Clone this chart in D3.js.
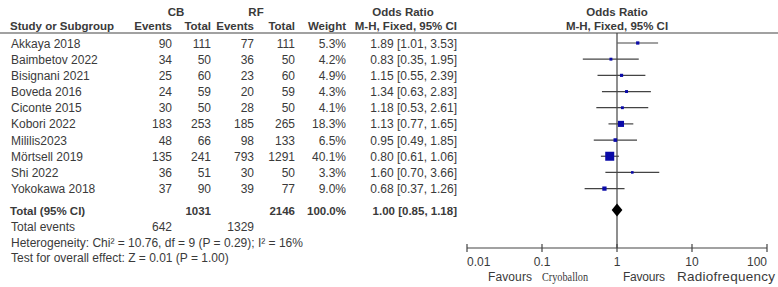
<!DOCTYPE html>
<html>
<head>
<meta charset="utf-8">
<script src="https://cdn.jsdelivr.net/npm/d3@7"></script>
<style>
  html, body { margin: 0; padding: 0; background: #fff; }
  svg { display: block; font-family: "Liberation Sans", Arial, sans-serif; }
</style>
</head>
<body>
<div id="forest"></div>
<script>
// ---- data ----
const studies   = ['Akkaya 2018', 'Baimbetov 2022', 'Bisignani 2021', 'Boveda 2016', 'Ciconte 2015',
                   'Kobori 2022', 'Mililis2023', 'Mörtsell 2019', 'Shi 2022', 'Yokokawa 2018'];
const cbEvents  = [90, 34, 25, 24, 30, 183, 48, 135, 36, 37];
const cbTotal   = [111, 50, 60, 59, 50, 253, 66, 241, 51, 90];
const rfEvents  = [77, 36, 23, 20, 28, 185, 98, 793, 30, 39];
const rfTotal   = [111, 50, 60, 59, 50, 265, 133, 1291, 50, 77];
const weights   = [5.3, 4.2, 4.9, 4.3, 4.1, 18.3, 6.5, 40.1, 3.3, 9.0];
const oddsRatio = [1.89, 0.83, 1.15, 1.34, 1.18, 1.13, 0.95, 0.80, 1.60, 0.68];
const ciLow     = [1.01, 0.35, 0.55, 0.63, 0.53, 0.77, 0.49, 0.61, 0.70, 0.37];
const ciHigh    = [3.53, 1.95, 2.39, 2.83, 2.61, 1.65, 1.85, 1.06, 3.66, 1.26];
const pooled    = { or: 1.00, lo: 0.85, hi: 1.18 };
const totals    = { cbTotal: 1031, rfTotal: 2146, cbEvents: 642, rfEvents: 1329, weight: '100.0%' };
const axisTicks = [0.01, 0.1, 1, 10, 100];
const tickLabels = ['0.01', '0.1', '1', '10', '100'];

const rows = studies.map((s, i) => ({
  study: s, cbE: cbEvents[i], cbT: cbTotal[i], rfE: rfEvents[i], rfT: rfTotal[i],
  w: weights[i], or: oddsRatio[i], lo: ciLow[i], hi: ciHigh[i]
}));

const width = 778, height = 287;
const textCol = '#3a3a3a', lineCol = '#444';

const svg = d3.select('#forest').append('svg')
  .attr('width', width).attr('height', height)
  .attr('viewBox', `0 0 ${width} ${height}`);

// scales
const y = d3.scalePoint().domain(studies).range([43, 188.6]);
const x = d3.scaleLog().domain([0.01, 100]).range([467, 767]);
const boxSize = d3.scaleSqrt().domain([0, 40.1]).range([0, 9]);

const yTotal = 210, yAxis = 248, yHeaderLine = 33;

// ----- header -----
const hdr = svg.append('g').attr('font-weight', 'bold').attr('font-size', 11.5).attr('fill', textCol);
const hdrText = (t, xx, yy, anchor) => hdr.append('text').attr('x', xx).attr('y', yy)
  .attr('text-anchor', anchor).text(t);
hdrText('CB', 176, 16, 'middle');
hdrText('RF', 256, 16, 'middle');
hdrText('Odds Ratio', 403, 16, 'middle');
hdrText('Odds Ratio', 617, 16, 'middle');
hdrText('Study or Subgroup', 10, 30, 'start');
hdrText('Events', 172, 30, 'end');
hdrText('Total', 211, 30, 'end');
hdrText('Events', 254, 30, 'end');
hdrText('Total', 295, 30, 'end');
hdrText('Weight', 346, 30, 'end');
hdrText('M-H, Fixed, 95% CI', 457, 30, 'end');
hdrText('M-H, Fixed, 95% CI', 617, 30, 'middle');

svg.append('line').attr('x1', 0).attr('x2', width)
  .attr('y1', yHeaderLine).attr('y2', yHeaderLine)
  .attr('stroke', lineCol).attr('stroke-width', 1.2);

// ----- table rows -----
const fmt2 = d3.format('.2f');
const cols = [
  { x: 11,  anchor: 'start', v: d => d.study },
  { x: 172, anchor: 'end',   v: d => d.cbE },
  { x: 211, anchor: 'end',   v: d => d.cbT },
  { x: 254, anchor: 'end',   v: d => d.rfE },
  { x: 295, anchor: 'end',   v: d => d.rfT },
  { x: 346, anchor: 'end',   v: d => d.w.toFixed(1) + '%' },
  { x: 457, anchor: 'end',   v: d => `${fmt2(d.or)} [${fmt2(d.lo)}, ${fmt2(d.hi)}]` }
];
const body = svg.append('g').attr('font-size', 12).attr('fill', textCol);
cols.forEach(c => {
  body.selectAll(null).data(rows).join('text')
    .attr('x', c.x).attr('y', d => y(d.study) + 4.5)
    .attr('text-anchor', c.anchor)
    .text(c.v);
});

// total row
const tot = svg.append('g').attr('font-weight', 'bold').attr('font-size', 11.5).attr('fill', textCol);
tot.append('text').attr('x', 10).attr('y', yTotal + 4.5).text('Total (95% CI)');
tot.append('text').attr('x', 211).attr('y', yTotal + 4.5).attr('text-anchor', 'end').text(totals.cbTotal);
tot.append('text').attr('x', 295).attr('y', yTotal + 4.5).attr('text-anchor', 'end').text(totals.rfTotal);
tot.append('text').attr('x', 346).attr('y', yTotal + 4.5).attr('text-anchor', 'end').text(totals.weight);
tot.append('text').attr('x', 457).attr('y', yTotal + 4.5).attr('text-anchor', 'end')
  .text(`${fmt2(pooled.or)} [${fmt2(pooled.lo)}, ${fmt2(pooled.hi)}]`);

const foot = svg.append('g').attr('font-size', 12).attr('fill', textCol);
foot.append('text').attr('x', 11).attr('y', 231).text('Total events');
foot.append('text').attr('x', 172).attr('y', 231).attr('text-anchor', 'end').text(totals.cbEvents);
foot.append('text').attr('x', 254).attr('y', 231).attr('text-anchor', 'end').text(totals.rfEvents);
foot.append('text').attr('x', 11).attr('y', 247)
  .text('Heterogeneity: Chi² = 10.76, df = 9 (P = 0.29); I² = 16%');
foot.append('text').attr('x', 11).attr('y', 262)
  .text('Test for overall effect: Z = 0.01 (P = 1.00)');

// ----- forest plot -----
const plot = svg.append('g');

// line of no effect
plot.append('line')
  .attr('x1', x(1)).attr('x2', x(1))
  .attr('y1', yHeaderLine).attr('y2', yAxis)
  .attr('stroke', lineCol).attr('stroke-width', 1.2);

// CI whiskers
plot.selectAll('line.ci').data(rows).join('line')
  .attr('class', 'ci')
  .attr('x1', d => x(d.lo)).attr('x2', d => x(d.hi))
  .attr('y1', d => y(d.study)).attr('y2', d => y(d.study))
  .attr('stroke', lineCol).attr('stroke-width', 1.2);

// weighted squares
plot.selectAll('rect.box').data(rows).join('rect')
  .attr('class', 'box')
  .attr('x', d => x(d.or) - boxSize(d.w) / 2)
  .attr('y', d => y(d.study) - boxSize(d.w) / 2)
  .attr('width', d => boxSize(d.w))
  .attr('height', d => boxSize(d.w))
  .attr('fill', '#0a0aa8');

// pooled diamond
const dh = 6.5;
plot.append('path')
  .attr('d', `M${x(pooled.lo)},${yTotal} L${x(pooled.or)},${yTotal - dh} L${x(pooled.hi)},${yTotal} L${x(pooled.or)},${yTotal + dh} Z`)
  .attr('fill', '#000');

// axis
const axisG = plot.append('g');
axisG.append('line').attr('x1', x(0.01)).attr('x2', x(100))
  .attr('y1', yAxis).attr('y2', yAxis)
  .attr('stroke', lineCol).attr('stroke-width', 1.2);
axisG.selectAll('line.tick').data(axisTicks).join('line')
  .attr('class', 'tick')
  .attr('x1', d => x(d)).attr('x2', d => x(d))
  .attr('y1', yAxis - 4).attr('y2', yAxis + 4)
  .attr('stroke', lineCol).attr('stroke-width', 1.2);
axisG.selectAll('text').data(axisTicks).join('text')
  .attr('x', d => x(d))
  .attr('y', 265.5)
  .attr('font-size', 12)
  .attr('fill', textCol)
  .attr('text-anchor', (d, i) => i === 0 ? 'start' : (i === axisTicks.length - 1 ? 'end' : 'middle'))
  .text((d, i) => tickLabels[i]);

// favours labels
const fav = plot.append('g').attr('fill', textCol);
fav.append('text').attr('x', 488).attr('y', 281).attr('font-size', 12)
  .attr('textLength', 44).text('Favours');
fav.append('text')
  .attr('transform', 'translate(542,281) scale(0.76,1)')
  .attr('font-size', 13.5)
  .attr('font-family', '"Liberation Serif", "Times New Roman", serif')
  .text('Cryoballon');
fav.append('text').attr('x', 623).attr('y', 281).attr('font-size', 12)
  .attr('textLength', 42).text('Favours');
fav.append('text').attr('x', 677).attr('y', 281).attr('font-size', 13.5)
  .attr('textLength', 98).text('Radiofrequency');
</script>
</body>
</html>
